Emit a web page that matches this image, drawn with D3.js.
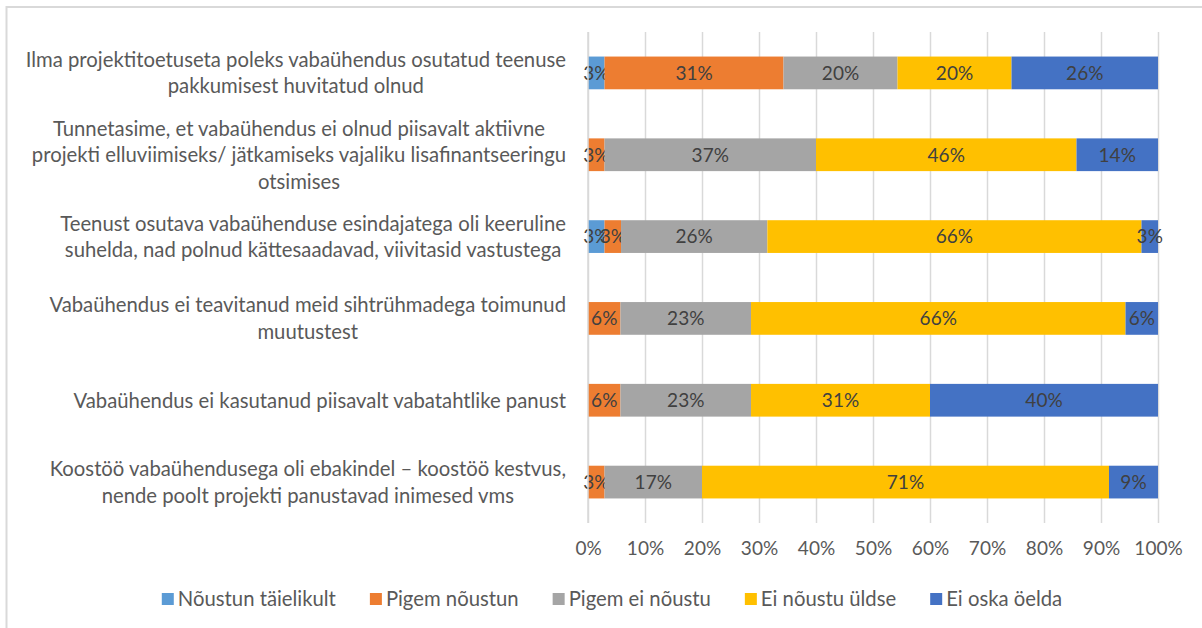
<!DOCTYPE html>
<html>
<head>
<meta charset="utf-8">
<script src="https://cdn.jsdelivr.net/npm/d3@7"></script>
<style>
  html, body { margin: 0; padding: 0; background: #fff; }
  svg { display: block; font-family: Lato, "Open Sans", sans-serif; }
</style>
</head>
<body>
<svg id="chart" width="1202" height="628"></svg>
<script>
// Survey statements (line breaks mark the wrapped label lines)
const categories = [
  "Ilma projektitoetuseta poleks vabaühendus osutatud teenuse\npakkumisest huvitatud olnud",
  "Tunnetasime, et vabaühendus ei olnud piisavalt aktiivne\nprojekti elluviimiseks/ jätkamiseks vajaliku lisafinantseeringu\notsimises",
  "Teenust osutava vabaühenduse esindajatega oli keeruline\nsuhelda, nad polnud kättesaadavad, viivitasid vastustega",
  "Vabaühendus ei teavitanud meid sihtrühmadega toimunud\nmuutustest",
  "Vabaühendus ei kasutanud piisavalt vabatahtlike panust",
  "Koostöö vabaühendusega oli ebakindel – koostöö kestvus,\nnende poolt projekti panustavad inimesed vms"
];

// Answer options, in stacking order
const seriesNames = ["Nõustun täielikult", "Pigem nõustun", "Pigem ei nõustu", "Ei nõustu üldse", "Ei oska öelda"];
const seriesColors = ["#5B9BD5", "#ED7D31", "#A5A5A5", "#FFC000", "#4472C4"];

// Share of respondents (%) per statement
const noustunTaielikult = [2.9, 0, 2.9, 0, 0, 0];
const pigemNoustun      = [31.4, 2.9, 2.9, 5.7, 5.7, 2.9];
const pigemEiNoustu     = [20.0, 37.1, 25.7, 22.9, 22.9, 17.1];
const eiNoustuUldse     = [20.0, 45.7, 65.7, 65.7, 31.4, 71.4];
const eiOskaOelda       = [25.7, 14.3, 2.9, 5.7, 40.0, 8.6];

const xTicks = [0, 10, 20, 30, 40, 50, 60, 70, 80, 90, 100];

const seriesValues = [noustunTaielikult, pigemNoustun, pigemEiNoustu, eiNoustuUldse, eiOskaOelda];

// Rows for the stack, normalised so each statement fills 100%
const rows = categories.map((c, i) => {
  const row = { category: c };
  const total = d3.sum(seriesValues, s => s[i]);
  seriesNames.forEach((n, k) => { row[n] = seriesValues[k][i]; row[n + "__share"] = seriesValues[k][i] / total * 100; });
  return row;
});

const stack = d3.stack()
  .keys(seriesNames)
  .value((d, key) => d[key + "__share"]);
const layers = stack(rows);

const svg = d3.select("#chart");
const plot = { left: 588, right: 1158, top: 32, bottom: 523 };

// Chart area outline
svg.append("rect")
  .attr("x", 6.5).attr("y", 7)
  .attr("width", 1300).attr("height", 700)
  .attr("fill", "none")
  .attr("stroke", "#d9d9d9")
  .attr("stroke-width", 2);

const x = d3.scaleLinear().domain([0, 100]).range([plot.left, plot.right]);
const y = d3.scaleBand()
  .domain(categories)
  .range([plot.top, plot.bottom])
  .paddingInner(0.6)
  .paddingOuter(0.3);

// Vertical gridlines
svg.append("g")
  .attr("transform", `translate(0,${plot.bottom})`)
  .call(d3.axisBottom(x).tickValues(xTicks).tickSize(-(plot.bottom - plot.top)).tickFormat(""))
  .call(g => g.select(".domain").remove())
  .call(g => g.selectAll("line").attr("stroke", "#d9d9d9").attr("stroke-width", 1.5));

// Percentage tick labels
svg.append("g")
  .attr("transform", `translate(0,${plot.bottom})`)
  .call(d3.axisBottom(x).tickValues(xTicks).tickSize(0).tickPadding(19).tickFormat(d => d + "%"))
  .call(g => g.select(".domain").remove())
  .call(g => g.selectAll("text")
    .attr("fill", "#595959")
    .style("font-size", "19px")
    .style("font-family", "Lato, 'Open Sans', sans-serif"));

// Stacked bars
const layerG = svg.append("g")
  .selectAll("g")
  .data(layers)
  .join("g")
  .attr("fill", (d, i) => seriesColors[i]);

layerG.selectAll("rect")
  .data(d => d.map(p => Object.assign(p, { key: d.key })))
  .join("rect")
  .attr("x", d => x(d[0]))
  .attr("y", d => y(d.data.category))
  .attr("width", d => x(d[1]) - x(d[0]))
  .attr("height", y.bandwidth());

// Category axis line
svg.append("line")
  .attr("x1", plot.left).attr("x2", plot.left)
  .attr("y1", plot.top).attr("y2", plot.bottom)
  .attr("stroke", "#d9d9d9")
  .attr("stroke-width", 1.5);

// Value labels inside segments
layerG.selectAll("text")
  .data(d => d.filter(p => p.data[p.key] > 0))
  .join("text")
  .attr("x", d => (x(d[0]) + x(d[1])) / 2)
  .attr("y", d => y(d.data.category) + y.bandwidth() / 2)
  .attr("dy", "0.36em")
  .attr("text-anchor", "middle")
  .attr("fill", "#404040")
  .style("font-size", "19px")
  .text(d => Math.round(d.data[d.key]) + "%");

// Category labels: each block right-aligned, lines centred within the block
const labelRight = 566;
const lineHeight = 26.5;
const catG = svg.append("g");
categories.forEach(c => {
  const lines = c.split("\n");
  const g = catG.append("g");
  const texts = lines.map((ln, i) => g.append("text")
    .attr("fill", "#595959")
    .style("font-size", "20.3px")
    .attr("text-anchor", "middle")
    .attr("dy", "0.36em")
    .attr("y", y(c) + y.bandwidth() / 2 + (i - (lines.length - 1) / 2) * lineHeight)
    .text(ln));
  const maxW = d3.max(texts, t => t.node().getComputedTextLength());
  texts.forEach(t => t.attr("x", labelRight - maxW / 2));
});

// Legend
const legendY = 599;
const legendG = svg.append("g");
const items = seriesNames.map((n, i) => {
  const g = legendG.append("g");
  g.append("rect").attr("x", 0).attr("y", -6).attr("width", 12).attr("height", 12).attr("fill", seriesColors[i]);
  const t = g.append("text").attr("x", 16).attr("dy", "0.36em")
    .attr("fill", "#595959").style("font-size", "20.3px").text(n);
  return { g, w: 16 + t.node().getComputedTextLength() };
});
const gap = 34;
const totalW = d3.sum(items, d => d.w) + gap * (items.length - 1);
let cx = 612 - totalW / 2;
items.forEach(it => {
  it.g.attr("transform", `translate(${cx},${legendY})`);
  cx += it.w + gap;
});
</script>
</body>
</html>
